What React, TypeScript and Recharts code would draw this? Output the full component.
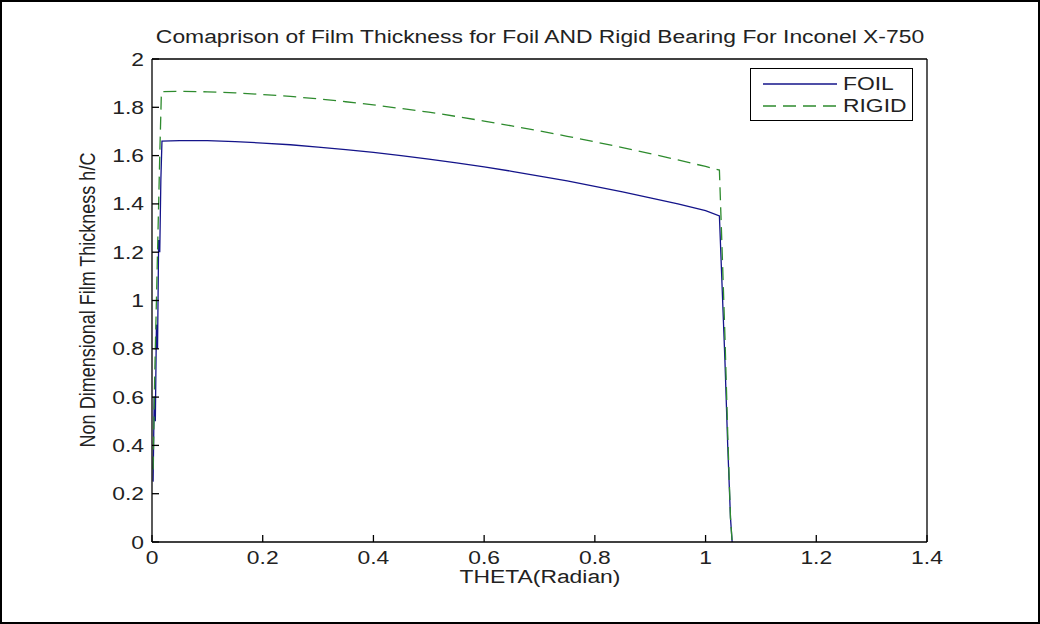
import { LineChart, Line, XAxis, YAxis, Legend } from "recharts";

const xTicks = [0, 0.2, 0.4, 0.6, 0.8, 1, 1.2, 1.4];
const yTicks = [0, 0.2, 0.4, 0.6, 0.8, 1, 1.2, 1.4, 1.6, 1.8, 2];

const foilTheta = [
  0.002, 0.004, 0.006, 0.008, 0.01, 0.012, 0.014, 0.016, 0.018, 0.05, 0.1, 0.15, 0.2, 0.25, 0.3,
  0.35, 0.4, 0.45, 0.5, 0.55, 0.6, 0.65, 0.7, 0.75, 0.8, 0.85, 0.9, 0.95, 1.0, 1.025, 1.03,
  1.035, 1.04, 1.045, 1.048,
];
const foilH = [
  0.25, 0.6, 0.5, 0.9, 0.8, 1.25, 1.2, 1.5, 1.66, 1.662, 1.662, 1.658, 1.652, 1.645, 1.635,
  1.625, 1.613, 1.6, 1.585, 1.57, 1.553, 1.535, 1.515, 1.495, 1.473, 1.45, 1.425, 1.4, 1.372,
  1.35, 1.05, 0.75, 0.4, 0.1, 0,
];

const rigidTheta = [
  0.002, 0.005, 0.008, 0.011, 0.014, 0.017, 0.05, 0.1, 0.15, 0.2, 0.25, 0.3, 0.35, 0.4, 0.45,
  0.5, 0.55, 0.6, 0.65, 0.7, 0.75, 0.8, 0.85, 0.9, 0.95, 1.0, 1.025, 1.03, 1.035, 1.04, 1.045,
  1.048,
];
const rigidH = [
  0.3, 0.7, 1.0, 1.3, 1.6, 1.865, 1.866, 1.864, 1.86, 1.853, 1.845, 1.835, 1.823, 1.81, 1.795,
  1.78, 1.762, 1.743, 1.723, 1.702, 1.68, 1.657, 1.633, 1.608, 1.582, 1.555, 1.54, 1.2, 0.85,
  0.45, 0.1, 0,
];

const foil = foilTheta.map((t, i) => ({ t, h: foilH[i] }));
const rigid = rigidTheta.map((t, i) => ({ t, h: rigidH[i] }));

const FONT = '"Liberation Sans", Arial, sans-serif';
const SX = 1.27;
const TICK = 7;

function fmt(v: number) {
  return String(Math.round(v * 10) / 10);
}

function BottomTick({ x, y, payload }: any) {
  return (
    <g>
      <line x1={x} y1={y} x2={x} y2={y - TICK} stroke="#000" strokeWidth={1.3} />
      <text
        transform={`translate(${x},${y + 22}) scale(${SX},1)`}
        textAnchor="middle"
        fontFamily={FONT}
        fontSize={18}
        fill="#222"
      >
        {fmt(payload.value)}
      </text>
    </g>
  );
}

function TopTick({ x, y }: any) {
  return <line x1={x} y1={y} x2={x} y2={y + TICK} stroke="#000" strokeWidth={1.3} />;
}

function LeftTick({ x, y, payload }: any) {
  return (
    <g>
      <line x1={x} y1={y} x2={x + TICK} y2={y} stroke="#000" strokeWidth={1.3} />
      <text
        transform={`translate(${x - 8},${y + 6.5}) scale(${SX},1)`}
        textAnchor="end"
        fontFamily={FONT}
        fontSize={18}
        fill="#222"
      >
        {fmt(payload.value)}
      </text>
    </g>
  );
}

function RightTick({ x, y }: any) {
  return <line x1={x} y1={y} x2={x - TICK} y2={y} stroke="#000" strokeWidth={1.3} />;
}

function LegendBox({ payload }: any) {
  return (
    <div
      style={{
        border: "1.5px solid #000",
        background: "#fff",
        width: 163,
        height: 53,
        boxSizing: "border-box",
        paddingTop: 4,
      }}
    >
      {(payload || []).map((p: any) => (
        <div key={p.value} style={{ display: "flex", alignItems: "center", height: 22 }}>
          <svg width={80} height={10} style={{ marginLeft: 12 }}>
            <line
              x1={0}
              y1={5}
              x2={74}
              y2={5}
              stroke={p.color}
              strokeWidth={1.3}
              strokeDasharray={p.payload?.strokeDasharray}
            />
          </svg>
          <span
            style={{
              fontFamily: FONT,
              fontSize: 18,
              color: "#222",
              display: "inline-block",
              transform: `scaleX(${SX})`,
              transformOrigin: "left center",
            }}
          >
            {p.value}
          </span>
        </div>
      ))}
    </div>
  );
}

export default function App() {
  return (
    <div
      style={{
        position: "absolute",
        left: 0,
        top: 0,
        width: 1040,
        height: 624,
        background: "#fff",
        border: "2px solid #000",
        boxSizing: "border-box",
        overflow: "hidden",
      }}
    >
      <div style={{ position: "absolute", left: -2, top: -2 }}>
        <LineChart
          width={1040}
          height={624}
          margin={{ top: 49, right: 103, bottom: 52, left: 112 }}
        >
          <XAxis
            dataKey="t"
            type="number"
            domain={[0, 1.4]}
            ticks={xTicks}
            allowDataOverflow
            height={30}
            tickSize={0}
            tickMargin={0}
            tickLine={false}
            tick={<BottomTick />}
            stroke="#000"
            strokeWidth={1.3}
            interval={0}
          />
          <XAxis
            xAxisId="top"
            orientation="top"
            dataKey="t"
            type="number"
            domain={[0, 1.4]}
            ticks={xTicks}
            height={10}
            tickSize={0}
            tickMargin={0}
            tickLine={false}
            tick={<TopTick />}
            stroke="#000"
            strokeWidth={1.3}
            interval={0}
          />
          <YAxis
            type="number"
            domain={[0, 2]}
            ticks={yTicks}
            width={40}
            tickSize={0}
            tickMargin={0}
            tickLine={false}
            tick={<LeftTick />}
            stroke="#000"
            strokeWidth={1.3}
            interval={0}
          />
          <YAxis
            yAxisId="r"
            orientation="right"
            type="number"
            domain={[0, 2]}
            ticks={yTicks}
            width={10}
            tickSize={0}
            tickMargin={0}
            tickLine={false}
            tick={<RightTick />}
            stroke="#000"
            strokeWidth={1.3}
            interval={0}
          />
          <Legend
            layout="vertical"
            align="center"
            verticalAlign="middle"
            content={<LegendBox />}
            wrapperStyle={{ position: "absolute", left: 750, top: 68, width: 163, height: 53 }}
          />
          <Line
            data={foil}
            dataKey="h"
            name="FOIL"
            type="linear"
            stroke="#14148a"
            strokeWidth={1.3}
            dot={false}
            isAnimationActive={false}
          />
          <Line
            data={rigid}
            dataKey="h"
            name="RIGID"
            type="linear"
            stroke="#2e8b2e"
            strokeWidth={1.3}
            strokeDasharray="13 7"
            dot={false}
            isAnimationActive={false}
          />
        </LineChart>
      </div>
      <div
        style={{
          position: "absolute",
          left: 540 - 2,
          top: 37 - 2,
          transform: `translate(-50%, -50%) scaleX(${SX})`,
          fontFamily: FONT,
          fontSize: 18,
          color: "#222",
          whiteSpace: "nowrap",
        }}
      >
        Comaprison of Film Thickness for Foil AND Rigid Bearing For Inconel X-750
      </div>
      <div
        style={{
          position: "absolute",
          left: 540 - 2,
          top: 577 - 2,
          transform: `translate(-50%, -50%) scaleX(${SX})`,
          fontFamily: FONT,
          fontSize: 18,
          color: "#222",
          whiteSpace: "nowrap",
        }}
      >
        THETA(Radian)
      </div>
      <div
        style={{
          position: "absolute",
          left: 88 - 2,
          top: 300 - 2,
          transform: "translate(-50%, -50%) rotate(-90deg) scaleX(0.8)",
          fontFamily: FONT,
          fontSize: 22.5,
          color: "#222",
          whiteSpace: "nowrap",
        }}
      >
        Non Dimensional Film Thickness h/C
      </div>
    </div>
  );
}
